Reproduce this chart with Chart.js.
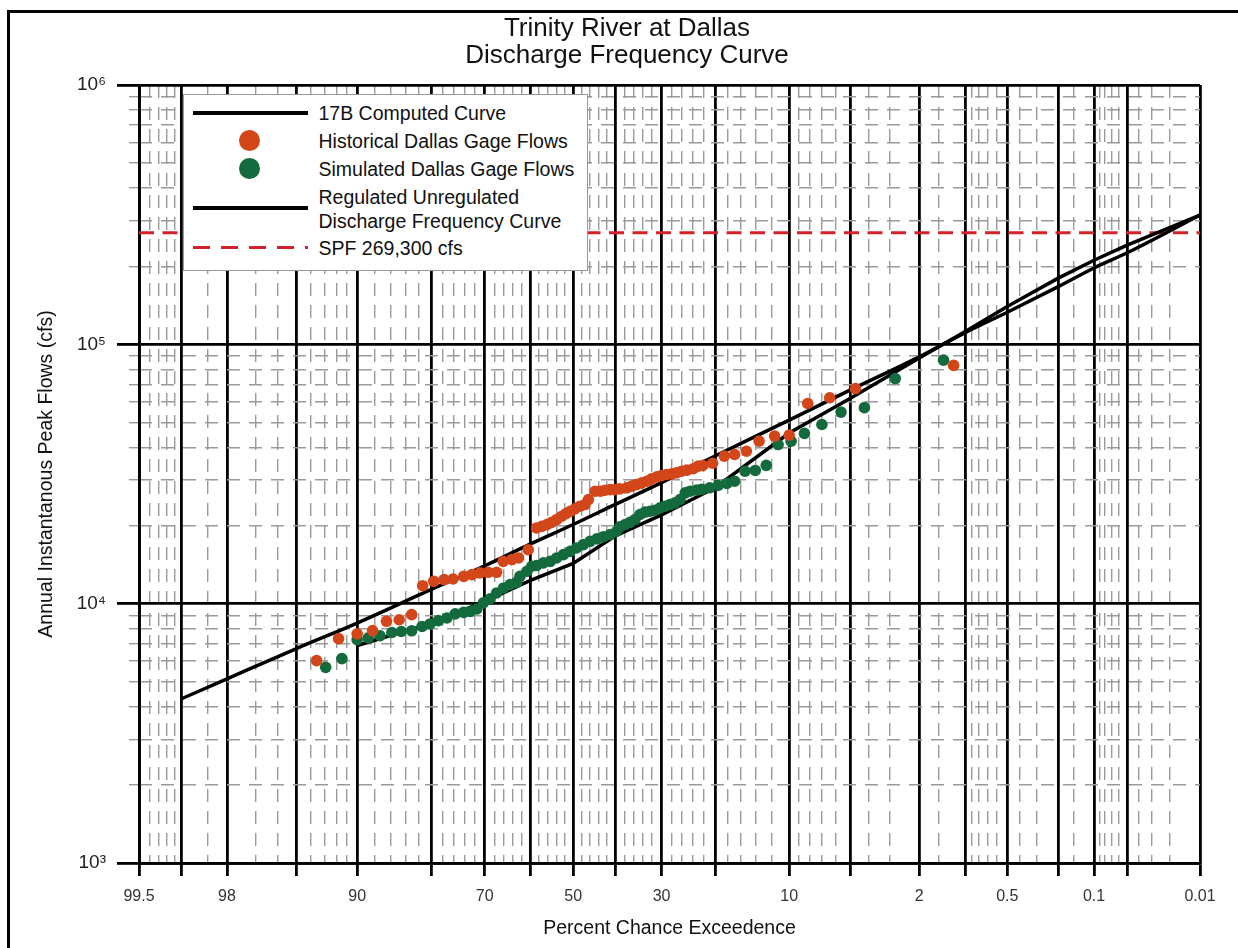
<!DOCTYPE html>
<html>
<head>
<meta charset="utf-8">
<title>Trinity River at Dallas</title>
<script src="https://cdn.jsdelivr.net/npm/chart.js@4.4.0/dist/chart.umd.min.js"></script>
<style>
    body { margin: 0; background: #fff; overflow: hidden; font-family: "Liberation Sans", Arial, sans-serif; }
    #frame { position: absolute; left: 7px; top: 10px; width: 1400px; height: 1100px; border: 3px solid #000; }
    #wrap { position: absolute; left: 0; top: 0; width: 1238px; height: 948px; }
    #title { position: absolute; left: 0; top: 14px; width: 1254px; text-align: center; font-size: 26px; line-height: 27px; color: #111; }
    #legend { position: absolute; left: 183px; top: 94px; width: 405px; height: 177px; box-sizing: border-box;
              border: 1.5px solid #999; background: #fff; }
    #legend .sw { position: absolute; left: 8.5px; width: 115px; height: 4px; background: #000; }
    #legend .dot { position: absolute; left: 55px; width: 21px; height: 21px; border-radius: 50%; }
    #legend .txt { position: absolute; left: 134.5px; font-size: 19.5px; line-height: 24px; color: #111; white-space: nowrap; }
    #legend .dash { position: absolute; left: 8.5px; width: 115px; height: 3px;
                    background: repeating-linear-gradient(to right, #d3222a 0 17px, transparent 17px 28px); }
</style>
</head>
<body>
<div id="frame"></div>
<div id="wrap"><canvas id="freqChart"></canvas></div>
<div id="title">Trinity River at Dallas<br>Discharge Frequency Curve</div>
<div id="legend">
    <div class="sw" style="top:15.5px"></div>
    <div class="txt" style="top:5.5px">17B Computed Curve</div>
    <div class="dot" style="top:35px; background:#d2461a"></div>
    <div class="txt" style="top:33.5px">Historical Dallas Gage Flows</div>
    <div class="dot" style="top:63px; background:#136a3c"></div>
    <div class="txt" style="top:61.5px">Simulated Dallas Gage Flows</div>
    <div class="sw" style="top:110.5px"></div>
    <div class="txt" style="top:89.5px">Regulated Unregulated</div>
    <div class="txt" style="top:113.5px">Discharge Frequency Curve</div>
    <div class="dash" style="top:151px"></div>
    <div class="txt" style="top:140.5px">SPF 269,300 cfs</div>
</div>
<script>
// percent chance exceedence grid (probability paper)
var majorPct = [99.5, 99, 98, 95, 90, 80, 70, 60, 50, 40, 30, 20, 10, 5, 2, 1, 0.5, 0.2, 0.1, 0.05, 0.01];
var labelPct = [99.5, 98, 90, 70, 50, 30, 10, 2, 0.5, 0.1, 0.01];
var minorPct = [99.4, 99.3, 99.2, 99.1, 98.5, 97, 96, 94, 93, 92, 91, 88, 86, 84, 82, 78, 76, 74, 72,
    68, 66, 64, 62, 58, 56, 54, 52, 48, 46, 44, 42, 38, 36, 34, 32, 28, 26, 24, 22, 18, 16, 14, 12,
    9, 8, 7, 6, 4, 3, 1.5, 0.9, 0.8, 0.7, 0.6, 0.4, 0.3, 0.15, 0.09, 0.08, 0.07, 0.06, 0.04, 0.03, 0.02];

// flow axis (cfs, log)
var yMajor = [1000, 10000, 100000, 1000000];
var yLabels = ['10\u00b3', '10\u2074', '10\u2075', '10\u2076'];
var yMinor = [2000, 3000, 4000, 5000, 6000, 7000, 8000, 9000,
    20000, 30000, 40000, 50000, 60000, 70000, 80000, 90000,
    200000, 300000, 400000, 500000, 600000, 700000, 800000, 900000];

// 17B computed curve
var curve17Pct = [99, 98, 95, 90, 80, 70, 60, 50, 40, 30, 20, 10, 5, 2, 1, 0.5, 0.2, 0.1, 0.05, 0.01];
var curve17Flow = [4290, 5130, 6700, 8420, 11350, 14000, 17000, 20200, 24200, 29300, 37100, 51000, 66700,
    89500, 111000, 133000, 167000, 197000, 226000, 315000];

// regulated unregulated discharge frequency curve
var regPct = [90, 80, 70, 60, 50, 40, 30, 20, 10, 5, 2, 1, 0.5, 0.2, 0.1, 0.05, 0.01];
var regFlow = [6900, 8400, 10200, 12300, 14300, 18300, 22000, 28000, 45500, 62000, 88500, 112000,
    140000, 180000, 211000, 242000, 315000];

// historical Dallas gage flows
var histPct = [93.6, 91.8, 90.0, 88.3, 86.6, 84.9, 83.1, 81.4, 79.6, 77.8, 76.2, 74.2, 72.6, 71.0, 69.3, 67.5,
    66.1, 64.2, 62.7, 60.5, 58.6, 57.4, 56.2, 55.1, 53.9, 52.7, 51.7, 50.7, 49.6, 48.4, 47.2, 46.4,
    44.8, 43.6, 42.5, 41.3, 40.2, 39.1, 37.5, 36.4, 35.3, 34.2, 33.1, 32.1, 31.0, 30.0, 29.0, 27.9, 27.0,
    26.0, 25.0, 23.8, 22.9, 22.1, 20.4, 18.5, 16.9, 15.2, 13.5, 11.6, 10.0, 8.2, 6.4, 4.7, 1.2];
var histFlow = [6030, 7330, 7650, 7870, 8550, 8670, 9070, 11730, 12190, 12380, 12450, 12740, 12940, 13140, 13210, 13210,
    14560, 14790, 15010, 16150, 19590, 19870, 20170, 20590, 21100, 21730, 22250, 22700, 23210, 23760, 24110, 25210,
    27150, 27150, 27390, 27520, 27520, 27720, 27980, 28400, 28800, 29230, 29660, 30280, 30820, 31180, 31470, 31670, 31960,
    32420, 32720, 33140, 33920, 34100, 34790, 37070, 37600, 38700, 42330, 44290, 44690, 59160, 62240, 67460, 82940];

// simulated Dallas gage flows
var simPct = [92.9, 91.5, 90.0, 88.8, 87.4, 85.9, 84.6, 83.1, 81.5, 80.2, 78.8, 77.3, 75.8, 74.2, 72.9, 71.6, 70.3, 68.9,
    67.5, 66.0, 64.6, 63.1, 62.4, 60.8, 59.7, 58.6, 57.0, 55.4, 53.9, 52.3, 50.7, 49.2, 47.6, 46.0, 44.4, 42.9, 41.3, 39.8,
    39.1, 37.9, 36.8, 35.7, 34.6, 33.5, 32.4, 31.4, 30.3, 29.3, 28.3, 27.3, 26.3, 25.3, 24.4, 23.2, 22.3, 20.9, 19.5, 18.1,
    16.9, 15.4, 14.0, 12.6, 11.2, 9.8, 8.5, 7.0, 5.6, 4.2, 2.8, 1.4];
var simFlow = [5680, 6140, 7260, 7380, 7520, 7740, 7810, 7860, 8170, 8350, 8600, 8810, 9130, 9260, 9340, 9540, 10070, 10430,
    11000, 11500, 11840, 12080, 12740, 13330, 13940, 14030, 14370, 14560, 15010, 15450, 15910, 16400, 16890, 17400, 17780, 18110, 18470, 19020,
    19770, 20180, 20590, 21100, 22070, 22540, 22730, 22930, 23410, 23760, 24110, 24480, 25210, 26750, 27150, 27400, 27600, 27980, 28550, 29070,
    29660, 32420, 32630, 34150, 41070, 42330, 45340, 49070, 54780, 57000, 73800, 86900];

var spfFlow = 269300;

var FONT = '"Liberation Sans", Arial, sans-serif';

// inverse standard normal (Acklam)
function normInv(p) {
    var a = [-39.69683028665376, 220.9460984245205, -275.9285104469687, 138.3577518672690, -30.66479806614716, 2.506628277459239];
    var b = [-54.47609879822406, 161.5858368580409, -155.6989798598866, 66.80131188771972, -13.28068155288572];
    var c = [-0.007784894002430293, -0.3223964580411365, -2.400758277161838, -2.549671348838094, 4.374664141464968, 2.938163982698783];
    var d = [0.007784695709041462, 0.3224671290700398, 2.445134137142996, 3.754408661907416];
    var q, r;
    if (p < 0.02425) {
        q = Math.sqrt(-2 * Math.log(p));
        return (((((c[0] * q + c[1]) * q + c[2]) * q + c[3]) * q + c[4]) * q + c[5]) / ((((d[0] * q + d[1]) * q + d[2]) * q + d[3]) * q + 1);
    }
    if (p > 1 - 0.02425) {
        q = Math.sqrt(-2 * Math.log(1 - p));
        return -(((((c[0] * q + c[1]) * q + c[2]) * q + c[3]) * q + c[4]) * q + c[5]) / ((((d[0] * q + d[1]) * q + d[2]) * q + d[3]) * q + 1);
    }
    q = p - 0.5;
    r = q * q;
    return (((((a[0] * r + a[1]) * r + a[2]) * r + a[3]) * r + a[4]) * r + a[5]) * q / (((((b[0] * r + b[1]) * r + b[2]) * r + b[3]) * r + b[4]) * r + 1);
}

// exceedence percent -> normal deviate (x position on probability paper)
function zOf(pct) {
    return normInv(1 - pct / 100);
}

function points(pcts, flows) {
    return pcts.map(function (p, i) { return { x: zOf(p), y: flows[i] }; });
}

var ctx = document.getElementById('freqChart').getContext('2d');
new Chart(ctx, {
    type: 'scatter',
    data: {
        datasets: [
            { label: 'Historical Dallas Gage Flows', data: points(histPct, histFlow),
              pointRadius: 5.8, pointBorderWidth: 0, backgroundColor: '#d2461a' },
            { label: 'Simulated Dallas Gage Flows', data: points(simPct, simFlow),
              pointRadius: 5.8, pointBorderWidth: 0, backgroundColor: '#136a3c' },
            { label: '17B Computed Curve', data: points(curve17Pct, curve17Flow), showLine: true,
              borderColor: '#000', borderWidth: 3.5, pointRadius: 0, cubicInterpolationMode: 'monotone' },
            { label: 'Regulated Unregulated Discharge Frequency Curve', data: points(regPct, regFlow), showLine: true,
              borderColor: '#000', borderWidth: 3.5, pointRadius: 0 },
            { label: 'SPF 269,300 cfs', data: points([99.5, 0.01], [spfFlow, spfFlow]), showLine: true,
              borderColor: '#d3222a', borderWidth: 3, borderDash: [15, 8.5], pointRadius: 0 }
        ]
    },
    options: {
        responsive: true,
        maintainAspectRatio: false,
        animation: false,
        layout: { padding: { left: 20, right: 38, top: 85, bottom: 0 } },
        plugins: { legend: { display: false }, tooltip: { enabled: false } },
        scales: {
            x: {
                type: 'linear', position: 'bottom', weight: 1,
                min: zOf(99.5), max: zOf(0.01),
                afterBuildTicks: function (scale) {
                    scale.ticks = majorPct.map(function (p) { return { value: zOf(p) }; });
                },
                afterFit: function (scale) { scale.height = 85; },
                grid: { color: '#000', lineWidth: 2.8, tickLength: 13, tickColor: '#000', tickWidth: 2.8 },
                border: { color: '#000', width: 2.8 },
                ticks: {
                    autoSkip: false, maxRotation: 0, padding: 11, color: '#333',
                    font: { size: 16, family: FONT },
                    callback: function (value, index) {
                        var p = majorPct[index];
                        return labelPct.indexOf(p) >= 0 ? String(p) : '';
                    }
                },
                title: { display: true, text: 'Percent Chance Exceedence', color: '#111',
                         font: { size: 19.5, family: FONT }, padding: { top: 0, bottom: 8 } }
            },
            x2: {
                type: 'linear', position: 'bottom', weight: 0,
                min: zOf(99.5), max: zOf(0.01),
                afterBuildTicks: function (scale) {
                    scale.ticks = minorPct.map(function (p) { return { value: zOf(p) }; });
                },
                afterFit: function (scale) { scale.height = 0; },
                grid: { color: '#9a9a9a', lineWidth: 1.4, drawTicks: false, z: -1 },
                border: { display: false, dash: [13, 9] },
                ticks: { display: false }
            },
            y: {
                type: 'logarithmic', position: 'left', weight: 1,
                min: 1000, max: 1000000,
                afterBuildTicks: function (scale) {
                    scale.ticks = yMajor.map(function (v) { return { value: v, major: true }; });
                },
                afterFit: function (scale) { scale.width = 119; },
                grid: { color: '#000', lineWidth: 2.8, tickLength: 22, tickColor: '#000', tickWidth: 2.8 },
                border: { color: '#000', width: 2.8 },
                ticks: {
                    autoSkip: false, padding: 11, color: '#222',
                    font: { size: 19, family: FONT },
                    callback: function (value, index) { return yLabels[index]; }
                },
                title: { display: true, text: 'Annual Instantanous Peak Flows (cfs)', color: '#111',
                         font: { size: 19.5, family: FONT }, padding: { top: 15, bottom: 0 } }
            },
            y2: {
                type: 'logarithmic', position: 'left', weight: 0,
                min: 1000, max: 1000000,
                afterBuildTicks: function (scale) {
                    scale.ticks = yMinor.map(function (v) { return { value: v }; });
                },
                afterFit: function (scale) { scale.width = 0; },
                grid: { color: '#9a9a9a', lineWidth: 1.4, tickLength: 10, z: -1 },
                border: { display: false, dash: [13, 9] },
                ticks: { display: false }
            }
        }
    }
});
</script>
</body>
</html>
